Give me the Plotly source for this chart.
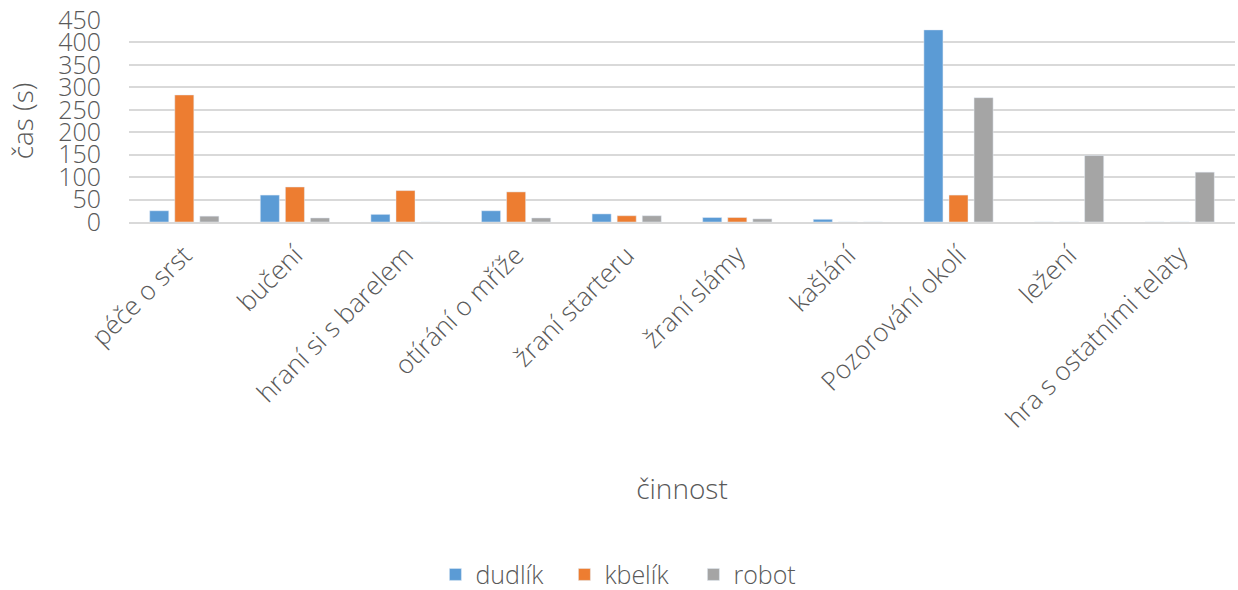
import plotly.graph_objects as go

# Activity categories and time spent (seconds) per feeding method
categories = [
    "péče o srst", "bučení", "hraní si s barelem", "otírání o mříže",
    "žraní starteru", "žraní slámy", "kašlání", "Pozorování okolí",
    "ležení", "hra s ostatními telaty",
]
dudlik = [25, 60, 17, 25, 18, 10, 6, 428, 0, 0]
kbelik = [283, 78, 70, 67, 14, 10, 0, 60, 0, 0]
robot = [13, 9, 0, 9, 14, 7, 0, 277, 148, 111]

y_ticks = [0, 50, 100, 150, 200, 250, 300, 350, 400, 450]

FONT = "Open Sans, sans-serif"
TEXT = "#595959"

fig = go.Figure()
fig.add_trace(go.Bar(name="dudlík", x=categories, y=dudlik, marker_color="#5B9BD5"))
fig.add_trace(go.Bar(name="kbelík", x=categories, y=kbelik, marker_color="#ED7D31"))
fig.add_trace(go.Bar(name="robot", x=categories, y=robot, marker_color="#A5A5A5"))

fig.update_layout(
    width=1238, height=590,
    margin=dict(l=129, r=3, t=20, b=368),
    paper_bgcolor="white", plot_bgcolor="white",
    barmode="group", bargap=0.32, bargroupgap=0.24,
    font=dict(family=FONT, color=TEXT, size=22, weight=300),
    showlegend=True,
    legend=dict(
        orientation="h", x=0.452, xanchor="center",
        yref="container", y=0.026, yanchor="middle",
        font=dict(size=25, color=TEXT, weight=300), itemwidth=30,
        traceorder="normal", entrywidth=84, entrywidthmode="pixels",
    ),
)
fig.update_yaxes(
    range=[0, 450], tickvals=y_ticks, showgrid=True, gridcolor="#D9D9D9",
    gridwidth=1.5, zeroline=False, showline=False, ticks="",
    tickfont=dict(size=25, color=TEXT, weight=300), ticklabelstandoff=27,
    title=dict(text="čas (s)", font=dict(size=28, color=TEXT, weight=300), standoff=16),
)
fig.update_xaxes(
    tickangle=-45, showline=True, linecolor="#D9D9D9", linewidth=1.5,
    ticks="", tickfont=dict(size=26, color=TEXT, weight=300), ticklabelstandoff=6,
    title=dict(text="činnost", font=dict(size=28, color=TEXT, weight=300), standoff=45),
)

fig.write_html("out.html")
